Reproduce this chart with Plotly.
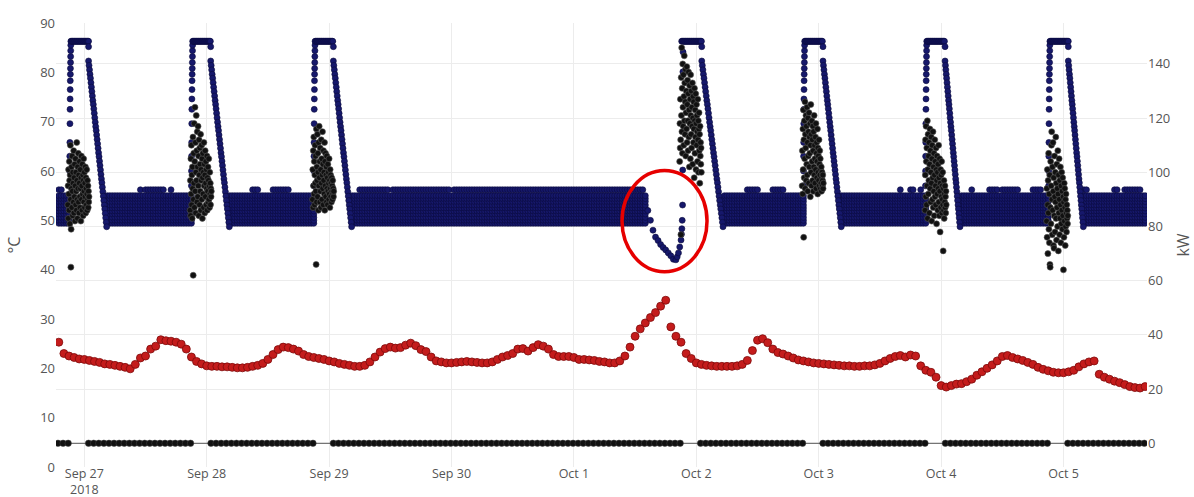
import pandas as pd
import plotly.graph_objects as go

# ---------------- data ----------------
# red series (°C), hourly samples
red_start = "2018-09-26 19:00"
red_temp_c = [
    25.3, 23.0, 22.5, 22.2, 21.9, 21.8, 21.6, 21.4, 21.2, 20.9, 20.8, 20.6, 20.4, 20.2, 19.9,
    20.8, 22.1, 22.5, 23.9, 24.5, 25.8, 25.6, 25.5, 25.3, 24.9, 23.9, 22.3, 21.4, 20.9, 20.5,
    20.4, 20.4, 20.3, 20.3, 20.2, 20.1, 20.1, 20.2, 20.4, 20.6, 21.0, 21.8, 22.8, 23.8, 24.3,
    24.2, 23.9, 23.5, 22.8, 22.4, 22.2, 22.0, 21.8, 21.5, 21.3, 21.0, 20.8, 20.6, 20.4, 20.4,
    20.6, 21.3, 22.3, 23.3, 24.0, 24.3, 24.1, 24.2, 24.7, 25.1, 24.6, 23.8, 23.4, 22.3, 21.5,
    21.3, 21.1, 21.1, 21.2, 21.3, 21.4, 21.3, 21.2, 21.1, 21.1, 21.3, 21.8, 22.3, 22.6, 23.0,
    23.9, 24.0, 23.5, 24.2, 24.8, 24.5, 23.9, 22.8, 22.4, 22.4, 22.4, 22.2, 21.8, 21.8, 21.7,
    21.6, 21.4, 21.3, 21.1, 21.1, 21.5, 22.5, 24.3, 26.5, 28.0, 29.2, 30.3, 31.3, 32.6, 33.8,
    28.4, 26.5, 25.3, 23.0, 22.0, 21.1, 20.8, 20.6, 20.5, 20.4, 20.4, 20.4, 20.4, 20.5, 20.8,
    21.6, 23.6, 25.7, 26.0, 25.2, 23.9, 23.2, 22.9, 22.5, 22.1, 21.7, 21.5, 21.3, 21.1, 21.0,
    20.9, 20.8, 20.7, 20.6, 20.5, 20.5, 20.4, 20.4, 20.5, 20.5, 20.7, 21.0, 21.5, 22.0, 22.4,
    22.6, 22.3, 22.7, 22.5, 20.5, 19.6, 19.2, 18.2, 16.5, 16.2, 16.5, 16.8, 16.9, 17.3, 17.8,
    18.6, 19.3, 20.0, 20.7, 21.5, 22.4, 22.6, 22.2, 21.9, 21.6, 21.2, 20.8, 20.2, 19.8, 19.5,
    19.2, 19.1, 19.1, 19.3, 19.6, 20.3, 20.9, 21.3, 21.5, 18.8, 18.2, 17.8, 17.4, 17.1, 16.7,
    16.3, 16.1, 16.0, 16.3,
]

# navy series (°C): heating events
event_rise = ["2018-09-26 21:22", "2018-09-27 21:15", "2018-09-28 21:15", "2018-10-01 21:08",
              "2018-10-02 21:15", "2018-10-03 21:11", "2018-10-04 21:20"]
event_plateau_end = ["2018-09-27 00:50", "2018-09-28 00:47", "2018-09-29 00:50", "2018-10-02 01:04",
                     "2018-10-03 00:50", "2018-10-04 00:46", "2018-10-05 00:56"]
event_decline_end = ["2018-09-27 04:23", "2018-09-28 04:26", "2018-09-29 04:25", "2018-10-02 05:14",
                     "2018-10-03 04:25", "2018-10-04 03:42", "2018-10-05 03:53"]
plateau_c = 86.3
plateau_hook_c = 85.2
rise_profile_c = [57.0, 60.0, 63.0, 65.8, 69.6, 72.5, 74.6, 76.5, 78.3, 79.6, 80.8, 82.0, 83.2, 84.4, 85.5]
decline_profile_c = [82.3, 81.4, 80.5, 79.6, 78.8, 77.9, 77.0, 76.1, 75.2, 74.3, 73.5, 72.6, 71.7,
                     70.8, 69.9, 69.0, 68.2, 67.3, 66.4, 65.5, 64.6, 63.7, 62.9, 62.0, 61.1, 60.2,
                     59.3, 58.4, 57.6, 56.7, 55.8, 54.9, 54.0, 53.1, 52.3, 51.4, 50.5, 49.6, 48.7]

# navy idle band (°C): oscillation levels seen in each half-hour column
navy_start = "2018-09-26 19:00"
navy_end = "2018-10-05 16:00"
band_levels_c = [49.4, 50.0, 50.6, 51.3, 51.9, 52.5, 53.1, 53.8, 54.4, 55.0]
band_bump_c = 56.2
band_bump_windows = [
    ("2018-09-26 19:00", "2018-09-26 19:40"), ("2018-09-27 10:50", "2018-09-27 11:20"),
    ("2018-09-27 12:00", "2018-09-27 15:30"), ("2018-09-27 16:50", "2018-09-27 17:20"),
    ("2018-09-28 09:00", "2018-09-28 10:00"), ("2018-09-28 13:00", "2018-09-28 16:00"),
    ("2018-09-29 06:00", "2018-09-29 11:30"), ("2018-09-29 12:30", "2018-09-29 23:30"),
    ("2018-09-30 00:30", "2018-10-01 13:30"),
    ("2018-10-02 10:00", "2018-10-02 12:00"), ("2018-10-02 15:00", "2018-10-02 17:00"),
    ("2018-10-03 15:50", "2018-10-03 16:20"), ("2018-10-03 17:50", "2018-10-03 18:30"),
    ("2018-10-03 19:50", "2018-10-03 20:20"), ("2018-10-04 05:40", "2018-10-04 06:10"),
    ("2018-10-04 09:30", "2018-10-04 11:00"), ("2018-10-04 11:50", "2018-10-04 15:00"),
    ("2018-10-04 17:50", "2018-10-04 19:30"), ("2018-10-05 03:50", "2018-10-05 04:50"),
    ("2018-10-05 10:00", "2018-10-05 10:40"), ("2018-10-05 12:00", "2018-10-05 15:00"),
]

# navy dip before the Oct 1 event (°C)
dip_times = ["2018-10-01 14:30", "2018-10-01 15:00", "2018-10-01 15:30", "2018-10-01 16:00",
             "2018-10-01 16:30", "2018-10-01 17:00", "2018-10-01 17:30", "2018-10-01 18:00",
             "2018-10-01 18:30", "2018-10-01 19:00", "2018-10-01 19:30", "2018-10-01 20:00",
             "2018-10-01 20:15", "2018-10-01 20:30", "2018-10-01 20:45", "2018-10-01 21:00",
             "2018-10-01 21:05", "2018-10-01 21:10", "2018-10-01 21:14", "2018-10-01 21:18",
             "2018-10-01 21:20", "2018-10-01 21:22", "2018-10-01 21:24"]
dip_c = [52.0, 50.0, 48.0, 46.6, 45.9, 45.1, 44.5, 44.0, 43.4, 42.8, 42.1, 42.0,
         42.6, 43.4, 44.6, 46.0, 47.2, 48.3, 50.0, 53.1, 60.2, 80.1, 84.1]

# black power series (kW) during each heating event, 3-minute samples
kw_start_offset_min = [-36, -30, -30, -24, -30, -20, -39]
kw_event1 = [88, 95, 83, 101, 92, 86, 104, 97, 81, 99, 110, 90, 65, 79, 94, 102, 87, 106, 93, 84,
             100, 96, 89, 108, 85, 98, 91, 103, 82, 95, 105, 88, 100, 93, 86, 111, 97, 90, 83, 102,
             94, 107, 89, 99, 85, 96, 104, 91, 87, 101, 94, 82, 98, 106, 90, 95, 86, 103, 92, 99,
             84, 97, 105, 89, 93, 100, 87, 96, 91, 102, 85, 98, 94, 88, 101, 92, 86, 97, 90, 95,
             87, 93, 89, 91]
kw_event2 = [86, 97, 84, 105, 92, 110, 88, 99, 83, 102, 94, 113, 62, 90, 107, 96, 118, 87, 104, 124,
             93, 111, 85, 100, 121, 97, 108, 89, 115, 102, 91, 117, 95, 106, 84, 112, 99, 88, 109, 103,
             93, 114, 86, 101, 97, 110, 90, 105, 83, 98, 107, 92, 100, 87, 111, 95, 103, 85, 99, 108,
             91, 96, 104, 88, 101, 94, 106, 86, 98, 93, 102, 89, 97, 105, 90, 95, 87, 100, 92, 96,
             88, 94, 91, 93]
kw_event3 = [90, 101, 87, 108, 95, 113, 92, 104, 88, 99, 110, 96, 106, 93, 66, 116, 89, 102, 97, 114,
             91, 107, 100, 86, 111, 95, 117, 98, 104, 89, 109, 93, 101, 87, 112, 96, 105, 90, 99, 115,
             94, 103, 88, 108, 97, 100, 92, 111, 86, 104, 95, 107, 91, 99, 102, 89, 106, 94, 98, 88,
             103, 93, 100, 96, 90, 105, 92, 97, 87, 101, 94, 99, 91, 96, 89, 98, 93, 95, 90, 97,
             92, 94, 91, 93]
kw_event4 = [104, 118, 109, 127, 112, 77, 135, 121, 146, 115, 131, 107, 140, 124, 117, 136, 110, 128,
             143, 119, 133, 114, 126, 138, 106, 122, 130, 116, 139, 111, 125, 134, 119, 108, 129, 137,
             113, 123, 102, 132, 118, 127, 105, 136, 121, 114, 130, 109, 124, 117, 133, 103, 120, 128,
             111, 126, 116, 98, 131, 119, 107, 123, 113, 129, 101, 118, 125, 110, 121, 115, 104, 127,
             112, 119, 100, 116, 122, 108, 114, 96, 117, 106, 111, 103, 109, 100]
kw_event5 = [95, 108, 92, 116, 101, 123, 76, 112, 98, 119, 105, 126, 94, 114, 109, 121, 97, 117, 103,
             124, 99, 111, 93, 120, 106, 115, 96, 122, 102, 113, 107, 118, 91, 110, 125, 100, 114, 95,
             119, 104, 112, 97, 117, 108, 93, 115, 102, 121, 99, 110, 105, 96, 113, 101, 118, 94, 107,
             111, 98, 104, 116, 92, 109, 100, 106, 97, 112, 95, 103, 108, 99, 105, 94, 101, 96, 102,
             93, 98, 100, 95, 97, 99, 94, 96]
kw_event6 = [86, 99, 112, 91, 117, 104, 88, 109, 95, 119, 83, 101, 114, 92, 106, 97, 111, 85, 103, 116,
             94, 108, 89, 100, 113, 96, 82, 105, 110, 90, 98, 115, 87, 102, 93, 107, 84, 99, 112, 91,
             104, 95, 88, 109, 101, 81, 97, 106, 92, 100, 86, 103, 94, 110, 89, 98, 84, 105, 93, 78,
             96, 101, 87, 99, 91, 104, 85, 95, 90, 100, 88, 71, 94, 86, 97, 83, 92, 89, 95, 87,
             91, 85, 93, 88]
kw_event7 = [82, 94, 76, 101, 88, 70, 97, 85, 107, 79, 92, 74, 99, 66, 65, 87, 104, 81, 95, 110,
             115, 90, 77, 102, 86, 111, 93, 73, 98, 72, 84, 106, 91, 78, 100, 89, 113, 83, 96, 75,
             103, 87, 94, 80, 108, 92, 71, 99, 85, 105, 90, 77, 97, 83, 102, 88, 74, 95, 81, 100,
             86, 93, 79, 98, 84, 91, 64, 89, 76, 96, 82, 94, 87, 73, 90, 80, 92, 85, 78, 88,
             83, 86, 81, 84]
kw_events = [kw_event1, kw_event2, kw_event3, kw_event4, kw_event5, kw_event6, kw_event7]
kw_step_min = 3

# black idle line (kW), hourly samples
idle_start = "2018-09-26 18:50"
idle_end = "2018-10-05 15:50"
idle_kw = 0.0
idle_gap_nights = ["2018-09-26", "2018-09-27", "2018-09-28", "2018-10-01", "2018-10-02",
                   "2018-10-03", "2018-10-04"]
idle_gap_hours = ["21:50", "22:50", "23:50"]

# highlighted region (red ellipse)
highlight_time = ["2018-10-01 09:26", "2018-10-02 02:06"]
highlight_c = [39.6, 60.1]

# axis ranges
x_range = ["2018-09-26 18:27", "2018-10-05 16:22"]
y_range_c = [0, 90]
y_range_kw = [-8.75, 155.1]

# ---------------- build traces ----------------
MIN = pd.Timedelta(minutes=1)
rises = pd.to_datetime(event_rise)
pl_end = pd.to_datetime(event_plateau_end)
de_end = pd.to_datetime(event_decline_end)
dip_t = pd.to_datetime(dip_times)
bump_w = [(pd.Timestamp(a), pd.Timestamp(b)) for a, b in band_bump_windows]

nx, ny = [], []

windows = [(pd.Timestamp(navy_start), rises[0] - 10 * MIN)]
for k in range(len(rises) - 1):
    end = rises[k + 1] - 10 * MIN
    if k + 1 == 3:
        end = dip_t[0] - 20 * MIN
    windows.append((de_end[k], end))
windows.append((de_end[-1], pd.Timestamp(navy_end)))

for a, b in windows:
    for t in pd.date_range(a.ceil("30min"), b, freq="30min"):
        for lv in band_levels_c:
            nx.append(t); ny.append(lv)
        if any(s <= t <= e for s, e in bump_w):
            nx.append(t); ny.append(band_bump_c)

for k in range(len(rises)):
    r = rises[k]
    if k == 3:
        for t, v in zip(dip_t, dip_c):
            nx.append(t); ny.append(v)
    else:
        n = len(rise_profile_c)
        for i, v in enumerate(rise_profile_c):
            nx.append(r - (n - i) * MIN); ny.append(v)
    for t in pd.date_range(r, pl_end[k], freq="8min"):
        nx.append(t); ny.append(plateau_c)
    nx.append(pl_end[k]); ny.append(plateau_hook_c)
    nd = len(decline_profile_c)
    span = de_end[k] - pl_end[k]
    for j, v in enumerate(decline_profile_c):
        nx.append(pl_end[k] + span * j / (nd - 1)); ny.append(v)

kx, ky = [], []
for k, vals in enumerate(kw_events):
    t0 = rises[k] + kw_start_offset_min[k] * MIN
    for i, v in enumerate(vals):
        kx.append(t0 + i * kw_step_min * MIN); ky.append(v)

gap_set = set(pd.to_datetime([f"{d} {h}" for d in idle_gap_nights for h in idle_gap_hours]))
idle_t = [t for t in pd.date_range(idle_start, idle_end, freq="h") if t not in gap_set]
idle_v = [idle_kw for _ in idle_t]

red_t = pd.date_range(red_start, periods=len(red_temp_c), freq="h")

fig = go.Figure()
fig.add_trace(go.Scatter(
    x=nx, y=ny, mode="markers", yaxis="y",
    marker=dict(size=6, color="#16186b", line=dict(width=0.6, color="#0a0a3a")),
))
fig.add_trace(go.Scatter(
    x=red_t, y=red_temp_c, mode="markers", yaxis="y",
    marker=dict(size=8, color="#c41c1c", line=dict(width=0.8, color="#7d0a0a")),
))
fig.add_trace(go.Scatter(
    x=idle_t, y=idle_v, mode="lines+markers", yaxis="y2",
    line=dict(width=1, color="#555555"),
    marker=dict(size=6.5, color="#111111", line=dict(width=0.5, color="#444444")),
))
fig.add_trace(go.Scatter(
    x=kx, y=ky, mode="markers", yaxis="y2",
    marker=dict(size=6, color="#111111", line=dict(width=0.6, color="#555555")),
))

fig.add_shape(type="circle", xref="x", yref="y",
              x0=highlight_time[0], x1=highlight_time[1], y0=highlight_c[0], y1=highlight_c[1],
              line=dict(color="#e60000", width=3.5), layer="above")

fig.update_layout(
    width=1194, height=497,
    margin=dict(l=56, r=47, t=23, b=30, autoexpand=False),
    paper_bgcolor="white", plot_bgcolor="white",
    showlegend=False,
    font=dict(family="Open Sans, sans-serif", size=13, color="#555555"),
    xaxis=dict(type="date", range=x_range, dtick=86400000, tick0="2018-09-27",
               showgrid=True, gridcolor="#ececec", zeroline=False, showline=False, ticks="",
               ticklabelstandoff=-3, tickfont=dict(size=12.5)),
    yaxis=dict(range=y_range_c, dtick=10, showgrid=False, zeroline=False, ticks="",
               title=dict(text="°C", standoff=15)),
    yaxis2=dict(range=y_range_kw, dtick=20, tick0=0, overlaying="y", side="right",
                showgrid=True, gridcolor="#ececec", zeroline=False, ticks="",
                title=dict(text="kW", standoff=8)),
)

fig.write_html("out.html", config={"displayModeBar": False},
               post_script="document.body.style.margin='0px';")
